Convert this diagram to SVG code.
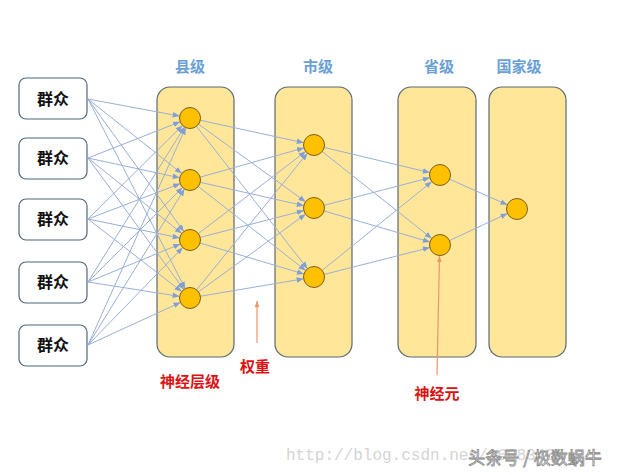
<svg xmlns="http://www.w3.org/2000/svg" width="617" height="475" viewBox="0 0 617 475">
<style>
.in rect{fill:#fff;stroke:#50687a;stroke-width:1.2}
.in text{font-family:"Noto Sans CJK SC","Noto Sans",sans-serif;font-size:16px;font-weight:bold;fill:#111;text-anchor:middle}
.layer{fill:#ffe699;stroke:#5a6a72;stroke-width:1.2}
.node{fill:#ffc000;stroke:#7a6020;stroke-width:1}
.hd{font-family:"Noto Sans CJK SC","Noto Sans",sans-serif;font-size:15px;font-weight:bold;fill:#6a9fd4;text-anchor:middle}
.lbl{font-family:"Noto Sans CJK SC","Noto Sans",sans-serif;font-size:15px;font-weight:bold;fill:#dd1111;text-anchor:middle}
#edges line{stroke:#99afd8;stroke-width:1;fill:none;marker-end:url(#ah)}
.note{stroke:#f0956a;stroke-width:1.2;fill:none;marker-end:url(#oh)}
</style>
<defs>
<marker id="ah" viewBox="0 0 10 10" refX="10" refY="5" markerWidth="7" markerHeight="7" orient="auto" markerUnits="userSpaceOnUse">
<path d="M0,1 L10,5 L0,9 z" fill="#7f9fd6"/>
</marker>
<marker id="oh" viewBox="0 0 10 10" refX="10" refY="5" markerWidth="6" markerHeight="6" orient="auto" markerUnits="userSpaceOnUse">
<path d="M0,1 L10,5 L0,9 z" fill="#f0956a"/>
</marker>
</defs>
<rect width="617" height="475" fill="#fff"/>

<g id="watermark">
<text x="286" y="460" font-family="Liberation Mono,monospace" font-size="16" fill="#d4d4d4">http://blog.csdn.net/16683405</text>
<text x="535" y="464" font-family="Noto Sans CJK SC,sans-serif" font-size="17" fill="#fff" stroke="#8a8a8a" stroke-width="0.8" text-anchor="middle">头条号 / 极数蜗牛</text>
</g>

<g id="layer-county"><rect class="layer" x="157" y="87" width="77" height="270" rx="13"/><text class="hd" x="190" y="72">县级</text></g>
<g id="layer-city"><rect class="layer" x="275" y="87" width="77" height="270" rx="13"/><text class="hd" x="318" y="72">市级</text></g>
<g id="layer-province"><rect class="layer" x="398" y="87" width="78" height="270" rx="13"/><text class="hd" x="439" y="72">省级</text></g>
<g id="layer-nation"><rect class="layer" x="489" y="87" width="77" height="270" rx="13"/><text class="hd" x="519" y="72">国家级</text></g>

<g id="in1" class="in"><rect x="19" y="78" width="68" height="41" rx="7"/><text x="53" y="105">群众</text></g>
<g id="in2" class="in"><rect x="19" y="138" width="68" height="41" rx="7"/><text x="53" y="164">群众</text></g>
<g id="in3" class="in"><rect x="19" y="199" width="68" height="41" rx="7"/><text x="53" y="225">群众</text></g>
<g id="in4" class="in"><rect x="19" y="262" width="68" height="41" rx="7"/><text x="53" y="288">群众</text></g>
<g id="in5" class="in"><rect x="19" y="325" width="68" height="41" rx="7"/><text x="53" y="351">群众</text></g>

<g id="edges">
<line x1="88" y1="99" x2="179.7" y2="116.1"/>
<line x1="88" y1="99" x2="181.8" y2="173.5"/>
<line x1="88" y1="99" x2="183.8" y2="231.5"/>
<line x1="88" y1="99" x2="185.2" y2="288.7"/>
<line x1="88" y1="158" x2="180.2" y2="121.8"/>
<line x1="88" y1="158" x2="179.7" y2="177.8"/>
<line x1="88" y1="158" x2="181.8" y2="233.4"/>
<line x1="88" y1="158" x2="183.8" y2="289.5"/>
<line x1="88" y1="219" x2="182.5" y2="125.4"/>
<line x1="88" y1="219" x2="180.2" y2="183.7"/>
<line x1="88" y1="219" x2="179.7" y2="237.9"/>
<line x1="88" y1="219" x2="181.7" y2="291.6"/>
<line x1="88" y1="282" x2="184.5" y2="126.9"/>
<line x1="88" y1="282" x2="182.6" y2="187.4"/>
<line x1="88" y1="282" x2="180.3" y2="244.0"/>
<line x1="88" y1="282" x2="179.6" y2="296.4"/>
<line x1="88" y1="345" x2="185.7" y2="127.6"/>
<line x1="88" y1="345" x2="184.5" y2="188.9"/>
<line x1="88" y1="345" x2="182.7" y2="247.5"/>
<line x1="88" y1="345" x2="180.5" y2="302.4"/>

<line x1="190" y1="118" x2="303.7" y2="142.8"/>
<line x1="190" y1="118" x2="305.5" y2="201.8"/>
<line x1="190" y1="118" x2="307.5" y2="268.7"/>
<line x1="190" y1="180" x2="303.9" y2="147.9"/>
<line x1="190" y1="180" x2="303.8" y2="205.7"/>
<line x1="190" y1="180" x2="305.7" y2="270.5"/>
<line x1="190" y1="240" x2="305.7" y2="151.4"/>
<line x1="190" y1="240" x2="303.8" y2="210.6"/>
<line x1="190" y1="240" x2="303.9" y2="274.0"/>
<line x1="190" y1="298" x2="307.4" y2="153.2"/>
<line x1="190" y1="298" x2="305.5" y2="214.2"/>
<line x1="190" y1="298" x2="303.6" y2="278.8"/>

<line x1="314" y1="145" x2="429.8" y2="172.6"/>
<line x1="314" y1="145" x2="431.8" y2="238.5"/>
<line x1="314" y1="208" x2="429.8" y2="177.7"/>
<line x1="314" y1="208" x2="429.9" y2="242.0"/>
<line x1="314" y1="277" x2="431.8" y2="181.6"/>
<line x1="314" y1="277" x2="429.8" y2="247.6"/>

<line x1="440" y1="175" x2="507.4" y2="204.8"/>
<line x1="440" y1="245" x2="507.5" y2="213.5"/>
</g>

<g id="county-nodes">
<circle class="node" cx="190" cy="118" r="10.5"/>
<circle class="node" cx="190" cy="180" r="10.5"/>
<circle class="node" cx="190" cy="240" r="10.5"/>
<circle class="node" cx="190" cy="298" r="10.5"/>
</g>
<g id="city-nodes">
<circle class="node" cx="314" cy="145" r="10.5"/>
<circle class="node" cx="314" cy="208" r="10.5"/>
<circle class="node" cx="314" cy="277" r="10.5"/>
</g>
<g id="province-nodes">
<circle class="node" cx="440" cy="175" r="10.5"/>
<circle class="node" cx="440" cy="245" r="10.5"/>
</g>
<g id="nation-node">
<circle class="node" cx="517" cy="209" r="10.5"/>
</g>

<g id="annotations">
<line class="note" x1="257" y1="343" x2="257" y2="301"/>
<line class="note" x1="437" y1="375" x2="439.5" y2="256"/>
<text class="lbl" x="190" y="387">神经层级</text>
<text class="lbl" x="255" y="372">权重</text>
<text class="lbl" x="437" y="399">神经元</text>
</g>
</svg>
